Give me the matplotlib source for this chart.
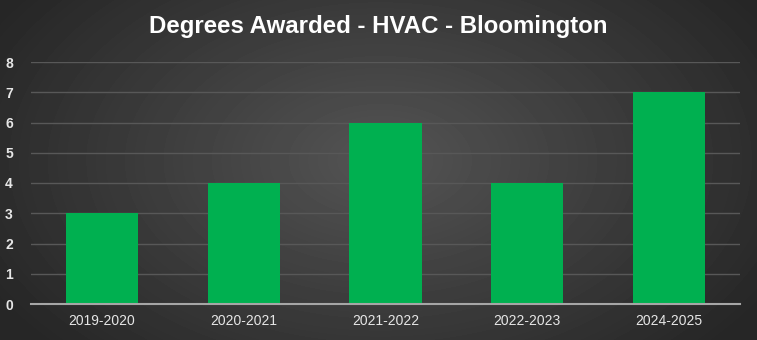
import numpy as np
import matplotlib.pyplot as plt

# Degrees awarded per academic year
years = ['2019-2020', '2020-2021', '2021-2022', '2022-2023', '2024-2025']
degrees = [3, 4, 6, 4, 7]
y_ticks = [0, 1, 2, 3, 4, 5, 6, 7, 8]

BAR_GREEN = '#00b050'
TEXT_COLOR = '#e6e6e6'

plt.rcParams['font.family'] = ['Liberation Sans', 'DejaVu Sans']

fig = plt.figure(figsize=(7.57, 3.40), dpi=100)

# Radial dark-gray gradient behind everything
bg = fig.add_axes([0, 0, 1, 1], zorder=0)
yy, xx = np.mgrid[0:340, 0:757]
r = np.sqrt(((xx - 380) / 420.0) ** 2 + ((yy - 160) / 260.0) ** 2)
shade = np.clip(0.33 - 0.17 * r, 0.15, 0.35)
bg.imshow(shade, cmap='gray', vmin=0, vmax=1, aspect='auto', interpolation='bilinear')
bg.axis('off')

ax = fig.add_axes([31 / 757, 1 - 304 / 340, (740 - 31) / 757, (304 - 62) / 340], zorder=1)
ax.patch.set_alpha(0)

x = np.arange(len(years))
ax.bar(x, degrees, width=0.51, color=BAR_GREEN, zorder=3)

ax.set_xlim(-0.5, len(years) - 0.5)
ax.set_ylim(0, 8)
ax.set_yticks(y_ticks)
ax.set_xticks(x)
ax.set_xticklabels(years)

ax.grid(axis='y', color='#585858', linewidth=1.0, zorder=0)
ax.set_axisbelow(True)

for side in ['top', 'right', 'left']:
    ax.spines[side].set_visible(False)
ax.spines['bottom'].set_color('#a6a6a6')
ax.spines['bottom'].set_linewidth(1.5)
ax.spines['bottom'].set_zorder(4)

ax.tick_params(axis='both', length=0, colors=TEXT_COLOR, labelsize=10)
ax.tick_params(axis='x', pad=7)
ax.tick_params(axis='y', pad=13)
for lbl in ax.get_yticklabels():
    lbl.set_fontweight('bold')

fig.text(0.5, 1 - 27 / 340, 'Degrees Awarded - HVAC - Bloomington',
         ha='center', va='center', color='white', fontsize=17.3, fontweight='bold')

fig.savefig('out.png', dpi=100)
